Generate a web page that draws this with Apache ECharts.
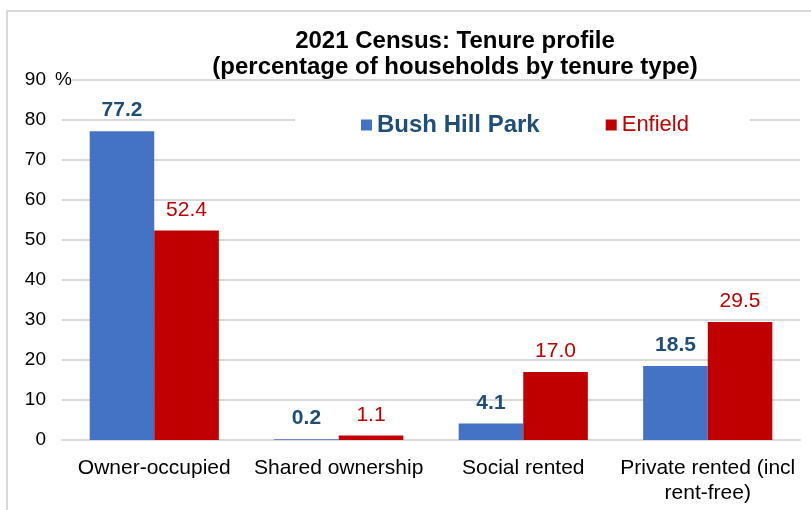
<!DOCTYPE html>
<html>
<head>
<meta charset="utf-8">
<script src="https://cdn.jsdelivr.net/npm/echarts@6/dist/echarts.min.js"></script>
<style>
html,body{margin:0;padding:0;background:#fff;}
#chart{width:811px;height:510px;}
</style>
</head>
<body>
<div id="chart"></div>
<script>
const titleText = '2021 Census: Tenure profile\n(percentage of households by tenure type)';
const categories = ['Owner-occupied', 'Shared ownership', 'Social rented', 'Private rented (incl\nrent-free)'];
const seriesNames = ['Bush Hill Park', 'Enfield'];
const bushHillPark = [77.2, 0.2, 4.1, 18.5];
const enfield = [52.4, 1.1, 17.0, 29.5];
const yTicks = [0, 10, 20, 30, 40, 50, 60, 70, 80, 90];
const yUnit = '%';

const FONT = '"Liberation Sans", Arial, sans-serif';
const chart = echarts.init(document.getElementById('chart'), null, {renderer: 'canvas'});

chart.setOption({
  backgroundColor: '#fff',
  animation: false,
  title: {
    text: titleText,
    left: 450,
    top: 23,
    textAlign: 'center',
    textStyle: {fontFamily: FONT, fontSize: 24, fontWeight: 'bold', color: '#000', lineHeight: 26}
  },
  legend: {
    left: 295,
    top: 107,
    padding: [6, 61, 6, 66],
    itemGap: 66,
    itemWidth: 11,
    itemHeight: 11,
    icon: 'rect',
    backgroundColor: '#fff',
    data: [
      {name: seriesNames[0], textStyle: {color: '#1F4E79', fontWeight: 'bold', fontSize: 24}},
      {name: seriesNames[1], textStyle: {color: '#C00000', fontWeight: 'normal', fontSize: 22}}
    ],
    textStyle: {fontFamily: FONT, fontSize: 23}
  },
  grid: {left: 62, right: 11, top: 80, bottom: 70, containLabel: false},
  xAxis: {
    type: 'category',
    data: categories,
    axisLine: {show: true, lineStyle: {color: '#d9d9d9', width: 2}},
    axisTick: {show: false},
    axisLabel: {interval: 0, margin: 16, color: '#000', fontFamily: FONT, fontSize: 21, lineHeight: 25}
  },
  yAxis: {
    type: 'value',
    min: yTicks[0],
    max: yTicks[yTicks.length - 1],
    interval: 10,
    axisLine: {show: false},
    axisTick: {show: false},
    splitLine: {lineStyle: {color: '#d9d9d9', width: 2}},
    axisLabel: {margin: 16, color: '#000', fontFamily: FONT, fontSize: 19}
  },
  graphic: [
    {type: 'rect', z: -1, silent: true, shape: {x: 7, y: 11, width: 900, height: 600},
     style: {fill: 'none', stroke: '#d9d9d9', lineWidth: 2}},
    {type: 'text', left: 55, top: 70, z: 10,
     style: {text: yUnit, fontFamily: FONT, fontSize: 19, fill: '#000', backgroundColor: '#fff'}}
  ],
  series: [
    {
      name: seriesNames[0], type: 'bar', data: bushHillPark,
      barGap: '0%', barCategoryGap: '30%',
      itemStyle: {color: '#4472C4'},
      label: {show: true, position: 'top', distance: 10, color: '#1F4E79', fontWeight: 'bold',
              fontFamily: FONT, fontSize: 21, formatter: p => p.value.toFixed(1)}
    },
    {
      name: seriesNames[1], type: 'bar', data: enfield,
      barGap: '0%', barCategoryGap: '30%',
      itemStyle: {color: '#C00000'},
      label: {show: true, position: 'top', distance: 10, color: '#C00000',
              fontFamily: FONT, fontSize: 21, formatter: p => p.value.toFixed(1)}
    }
  ]
});
</script>
</body>
</html>
